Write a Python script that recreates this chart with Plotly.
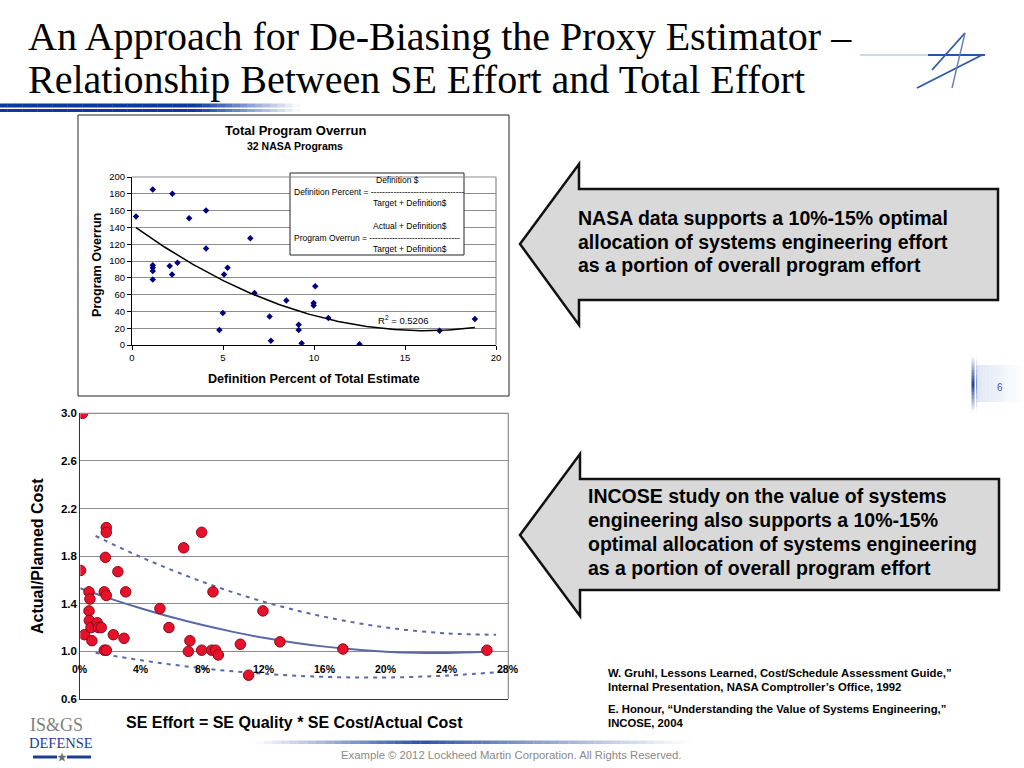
import math
import numpy as np
import plotly.graph_objects as go

W, H = 1024, 768
SANS = "Liberation Sans"
SERIF = "Liberation Serif"


def px(x):
    return x / W


def py(y):
    return 1 - y / H


# ---------------- Data: top chart (32 NASA programs) ----------------
nasa_def_pct = [0.22, 1.14, 1.14, 1.14, 1.14, 1.14, 2.22, 2.07, 2.20, 2.50,
                3.14, 4.07, 4.07, 4.80, 4.99, 5.06, 5.25, 6.50, 6.73, 7.56,
                7.63, 8.48, 9.16, 9.16, 9.32, 9.98, 9.98, 10.07, 10.79, 12.50,
                16.90, 18.84]
nasa_overrun = [153, 185, 95, 92, 88, 78, 180, 94, 84, 98,
                151, 160, 115, 18, 38, 84, 92, 127, 62, 34,
                5, 53, 24, 18, 2, 50, 47, 70, 32, 1,
                17, 31]
top_x_ticks = [0, 5, 10, 15, 20]
top_y_ticks = [0, 20, 40, 60, 80, 100, 120, 140, 160, 180, 200]

# ---------------- Data: bottom chart (INCOSE study) ----------------
se_effort_pct = [0.15, 0.02, 0.28, 0.57, 0.63, 0.57, 0.59, 0.70, 0.76, 1.11,
                 1.18, 1.37, 1.70, 1.70, 1.64, 1.57, 1.70, 1.57, 1.70, 2.16,
                 2.46, 2.86, 2.97, 5.21, 5.80, 6.76, 7.17, 7.07, 7.94, 7.94,
                 8.68, 8.59, 8.85, 9.03, 10.47, 11.01, 11.95, 13.06, 17.18, 26.60]
cost_ratio = [3.00, 1.68, 1.14, 1.50, 1.44, 1.34, 1.26, 1.20, 1.09, 1.24,
              1.20, 1.20, 2.04, 2.00, 1.79, 1.50, 1.47, 1.01, 1.01, 1.14,
              1.67, 1.11, 1.50, 1.36, 1.20, 1.87, 1.09, 1.00, 2.00, 1.01,
              1.50, 1.01, 1.01, 0.97, 1.06, 0.80, 1.34, 1.08, 1.02, 1.01]

# fitted curve and bands at sample points
fit_x = [0, 2, 4, 6, 8, 10, 12, 14, 16, 18, 20, 22, 24, 26.6]
fit_y = [1.530, 1.441, 1.360, 1.286, 1.221, 1.164, 1.114, 1.073, 1.040, 1.015,
         0.997, 0.988, 0.987, 0.997]
upper_x = [1, 4, 8, 12, 16, 20, 24, 27.2]
upper_y = [1.970, 1.790, 1.584, 1.417, 1.290, 1.201, 1.151, 1.140]
lower_x = [1, 4, 8, 12, 16, 20, 24, 27.8]
lower_y = [0.988, 0.925, 0.858, 0.812, 0.786, 0.781, 0.797, 0.831]

bot_x_ticks = [0, 4, 8, 12, 16, 20, 24, 28]
bot_y_ticks = [0.6, 1.0, 1.4, 1.8, 2.2, 2.6, 3.0]

# ---------------- Figure ----------------
fig = go.Figure()

fig.add_trace(go.Scatter(
    x=nasa_def_pct, y=nasa_overrun, mode="markers", xaxis="x", yaxis="y",
    marker=dict(symbol="diamond", size=5, color="#000080"), hoverinfo="skip"))

coef = np.polyfit(nasa_def_pct, nasa_overrun, 2)
trend_x = np.linspace(min(nasa_def_pct), max(nasa_def_pct), 120)
fig.add_trace(go.Scatter(
    x=trend_x, y=np.polyval(coef, trend_x), mode="lines", xaxis="x", yaxis="y",
    line=dict(color="black", width=1.5), hoverinfo="skip"))

fig.add_trace(go.Scatter(
    x=upper_x, y=upper_y, mode="lines", xaxis="x2", yaxis="y2",
    line=dict(color="#5a68a6", width=2, dash="4px,5px", shape="spline"), hoverinfo="skip"))
fig.add_trace(go.Scatter(
    x=lower_x, y=lower_y, mode="lines", xaxis="x2", yaxis="y2",
    line=dict(color="#5a68a6", width=2, dash="4px,5px", shape="spline"), hoverinfo="skip"))
fig.add_trace(go.Scatter(
    x=fit_x, y=fit_y, mode="lines", xaxis="x2", yaxis="y2",
    line=dict(color="#5a68a6", width=2, shape="spline"), hoverinfo="skip"))
fig.add_trace(go.Scatter(
    x=se_effort_pct, y=cost_ratio, mode="markers", xaxis="x2", yaxis="y2",
    marker=dict(symbol="circle", size=10.5, color="#e8102a",
                line=dict(color="#8a0a14", width=1)), hoverinfo="skip"))

# ---------------- Shapes ----------------
shapes = []


def rect(x0, y0, x1, y1, fill, line_color=None, lw=0, layer="below"):
    shapes.append(dict(type="rect", xref="paper", yref="paper",
                       x0=px(x0), x1=px(x1), y0=py(y1), y1=py(y0),
                       fillcolor=fill, layer=layer,
                       line=dict(color=line_color or fill, width=lw)))


def line(x0, y0, x1, y1, color, width):
    shapes.append(dict(type="line", xref="paper", yref="paper",
                       x0=px(x0), y0=py(y0), x1=px(x1), y1=py(y1),
                       line=dict(color=color, width=width), layer="above"))


def mix(c1, c2, t):
    a = [int(c1[i:i + 2], 16) for i in (1, 3, 5)]
    b = [int(c2[i:i + 2], 16) for i in (1, 3, 5)]
    return "#" + "".join("%02x" % int(round(a[k] + (b[k] - a[k]) * t)) for k in range(3))


def color_at(stops, t):
    for j in range(len(stops) - 1):
        if stops[j][0] <= t <= stops[j + 1][0]:
            tt = (t - stops[j][0]) / (stops[j + 1][0] - stops[j][0])
            return mix(stops[j][1], stops[j + 1][1], tt)
    return stops[-1][1]


def hgrad(x0, x1, y0, y1, stops, n=40):
    for i in range(n):
        c = color_at(stops, (i + 0.5) / n)
        xa = x0 + (x1 - x0) * i / n
        xb = x0 + (x1 - x0) * (i + 1) / n
        rect(xa, y0, xb + 0.3, y1, c)


def vgrad(x0, x1, y0, y1, stops, n=30):
    for i in range(n):
        c = color_at(stops, (i + 0.5) / n)
        ya = y0 + (y1 - y0) * i / n
        yb = y0 + (y1 - y0) * (i + 1) / n
        rect(x0, ya, x1, yb + 0.3, c)


# title underline bars
hgrad(0, 300, 103.5, 107.5, [(0, "#0b3a9c"), (0.65, "#0b3a9c"), (1, "#ffffff")])
hgrad(0, 300, 109, 112, [(0, "#0b3a9c"), (0.65, "#0b3a9c"), (1, "#ffffff")])

# top chart frame
rect(78, 115, 509, 396, "rgba(0,0,0,0)", "#222222", 1)

# formula box on top chart
shapes.append(dict(type="rect", xref="paper", yref="paper",
                   x0=px(290), x1=px(464), y0=py(255), y1=py(173),
                   fillcolor="white", line=dict(color="#222222", width=1), layer="above"))

# plot borders (gray right / top)
for xr, yr in (("x", "y"), ("x2", "y2")):
    shapes.append(dict(type="line", xref=xr + " domain", yref=yr + " domain",
                       x0=1, x1=1, y0=0, y1=1, line=dict(color="#8c8c8c", width=1.2)))
    shapes.append(dict(type="line", xref=xr + " domain", yref=yr + " domain",
                       x0=0, x1=1, y0=1, y1=1, line=dict(color="#8c8c8c", width=1.2)))


# arrows
def arrow(tip_x, tip_y, head_x, head_top, head_bot, body_top, body_bot, right):
    pts = [(tip_x, tip_y), (head_x, head_top), (head_x, body_top), (right, body_top),
           (right, body_bot), (head_x, body_bot), (head_x, head_bot)]
    path = "M " + " L ".join("{} {}".format(px(a), py(b)) for a, b in pts) + " Z"
    shapes.append(dict(type="path", xref="paper", yref="paper", path=path,
                       fillcolor="#d9d9d9", line=dict(color="#111111", width=2.5),
                       layer="below"))


arrow(520, 244, 579, 164, 325, 189, 300, 998)
arrow(520, 535, 580, 454, 616, 479, 590, 999)

# page-number decoration
hgrad(977, 1024, 365, 402, [(0, "#dfe6f4"), (1, "#ffffff")], n=15)
vgrad(971.5, 974.5, 356, 412, [(0, "#ffffff"), (0.5, "#1a3d8f"), (1, "#ffffff")], n=20)
vgrad(976, 977.2, 356, 412, [(0, "#ffffff"), (0.5, "#7d93c4"), (1, "#ffffff")], n=12)

# footer line
hgrad(255, 690, 740.5, 744, [(0, "#ffffff"), (0.38, "#2c52a3"), (0.55, "#6f86bd"), (1, "#ffffff")], n=50)

# Lockheed logo (top right)
line(860, 55, 930, 55, "#9fb0d4", 1)
line(928, 55, 985, 55, "#2457a8", 2)
line(917, 88, 982, 55, "#2a5aa8", 1.8)
line(965, 33, 932, 70, "#2a5aa8", 1.8)
line(965, 33, 952, 88, "#5f7fb8", 1.4)

# bottom-left logo underline with small star
line(33, 757, 57, 757, "#1e3c96", 3)
line(67, 757, 91, 757, "#1e3c96", 3)
star_pts = []
for k in range(10):
    r = 4.2 if k % 2 == 0 else 1.8
    ang = -math.pi / 2 + k * math.pi / 5
    star_pts.append((62 + r * math.cos(ang), 757.5 + r * math.sin(ang)))
shapes.append(dict(type="path", xref="paper", yref="paper",
                   path="M " + " L ".join("{} {}".format(px(a), py(b)) for a, b in star_pts) + " Z",
                   fillcolor="#6d6d6d", line=dict(color="#6d6d6d", width=0.5)))

# ---------------- Annotations ----------------
ann = []


def text(x, y, s, size, color="black", family=SANS, xanchor="center", yanchor="middle",
         align="center", textangle=0):
    ann.append(dict(x=px(x), y=py(y), xref="paper", yref="paper", text=s, showarrow=False,
                    font=dict(size=size, color=color, family=family),
                    xanchor=xanchor, yanchor=yanchor, align=align, textangle=textangle))


# slide title
text(26, 36, "An Approach for De-Biasing the Proxy Estimator –", 40, family=SERIF, xanchor="left")
text(26, 79, "Relationship Between SE Effort and Total Effort", 40, family=SERIF, xanchor="left")

# top chart texts
text(295, 131, "<b>Total Program Overrun</b>", 13)
text(295, 146, "<b>32 NASA Programs</b>", 10.5)
text(97, 265, "<b>Program Overrun</b>", 12.6, textangle=-90)
text(314, 379, "<b>Definition Percent of Total Estimate</b>", 12.6)
text(397, 180, "Definition $", 8.5)
text(292, 192, "Definition Percent = " + "-" * 33, 8.5, xanchor="left")
text(410, 203, "Target + Definition$", 8.5)
text(410, 226, "Actual + Definition$", 8.5)
text(292, 238, "Program Overrun = " + "-" * 32, 8.5, xanchor="left")
text(410, 249, "Target + Definition$", 8.5)
text(376, 320, "R<sup>2</sup> = 0.5206", 9.5, xanchor="left")

# bottom chart texts
text(37, 556, "<b>Actual/Planned Cost</b>", 16, textangle=-90)
text(294, 722, "<b>SE Effort = SE Quality * SE Cost/Actual Cost</b>", 16)
for v in bot_x_ticks:
    ann.append(dict(x=v, y=1.0, xref="x2", yref="y2", text="<b>%d%%</b>" % v, showarrow=False,
                    font=dict(size=10.5, color="black", family=SANS), yshift=-18))

# arrow texts
arrow1_lines = ["NASA data supports a 10%-15% optimal",
                "allocation of systems engineering effort",
                "as a portion of overall program effort"]
for i, s in enumerate(arrow1_lines):
    text(576, 218 + 23.5 * i, "<b>%s</b>" % s, 19.5, xanchor="left", align="left")
arrow2_lines = ["INCOSE study on the value of systems",
                "engineering also supports a 10%-15%",
                "optimal allocation of systems engineering",
                "as a portion of overall program effort"]
for i, s in enumerate(arrow2_lines):
    text(586, 496 + 24 * i, "<b>%s</b>" % s, 19.5, xanchor="left", align="left")

# references
ref_lines = [(673, "W. Gruhl, Lessons Learned, Cost/Schedule Assessment Guide,”"),
             (687, "Internal Presentation, NASA Comptroller’s Office, 1992"),
             (709, "E. Honour, “Understanding the Value of Systems Engineering,”"),
             (723, "INCOSE, 2004")]
for yy, s in ref_lines:
    text(606, yy, "<b>%s</b>" % s, 11.3, xanchor="left", align="left")

# footer
text(511, 755, "Example © 2012 Lockheed Martin Corporation. All Rights Reserved.", 11.3, color="#8a8a8a")
text(1000, 387, "6", 10, color="#3a55a0")
text(56, 725, "IS&amp;GS", 18, color="#808080", family=SERIF)
text(61, 743, "DEFENSE", 14.5, color="#1e3c96", family=SERIF)

# ---------------- Layout ----------------
axis_font = dict(family=SANS, size=9.5, color="black")
fig.update_layout(
    width=W, height=H, margin=dict(l=0, r=0, t=0, b=0, pad=0, autoexpand=False),
    paper_bgcolor="white", plot_bgcolor="white", showlegend=False,
    font=dict(family=SANS),
    xaxis=dict(domain=[px(132), px(496)], range=[0, 20], tickvals=top_x_ticks,
               showgrid=False, zeroline=False, showline=True, linecolor="black", linewidth=1,
               ticks="outside", ticklen=4, tickcolor="black", tickfont=axis_font, anchor="y",
               fixedrange=True, automargin=False),
    yaxis=dict(domain=[py(345), py(177)], range=[0, 200], tickvals=top_y_ticks,
               showgrid=True, gridcolor="#8c8c8c", gridwidth=1.2, zeroline=False,
               showline=True, linecolor="black", linewidth=1, ticks="outside", ticklen=4,
               tickcolor="black", tickfont=axis_font, anchor="x", fixedrange=True,
               automargin=False),
    xaxis2=dict(domain=[px(80.3), px(508.3)], range=[0, 28], tickvals=bot_x_ticks,
                showticklabels=False, showgrid=False, zeroline=False, showline=True,
                linecolor="#333333", linewidth=1.2, ticks="", anchor="y2", fixedrange=True,
                automargin=False),
    yaxis2=dict(domain=[py(699), py(413.3)], range=[0.6, 3.0], tickvals=bot_y_ticks,
                ticktext=["%.1f" % v for v in bot_y_ticks],
                showgrid=True, gridcolor="#8c8c8c", gridwidth=1.2, zeroline=False,
                showline=True, linecolor="#333333", linewidth=1.2, ticks="",
                tickfont=dict(family=SANS, size=11.5, color="black", weight="bold"),
                anchor="x2", fixedrange=True, automargin=False),
    shapes=shapes, annotations=ann,
)

fig.write_html("out.html", config={"displayModeBar": False},
               post_script="document.body.style.margin='0';")
